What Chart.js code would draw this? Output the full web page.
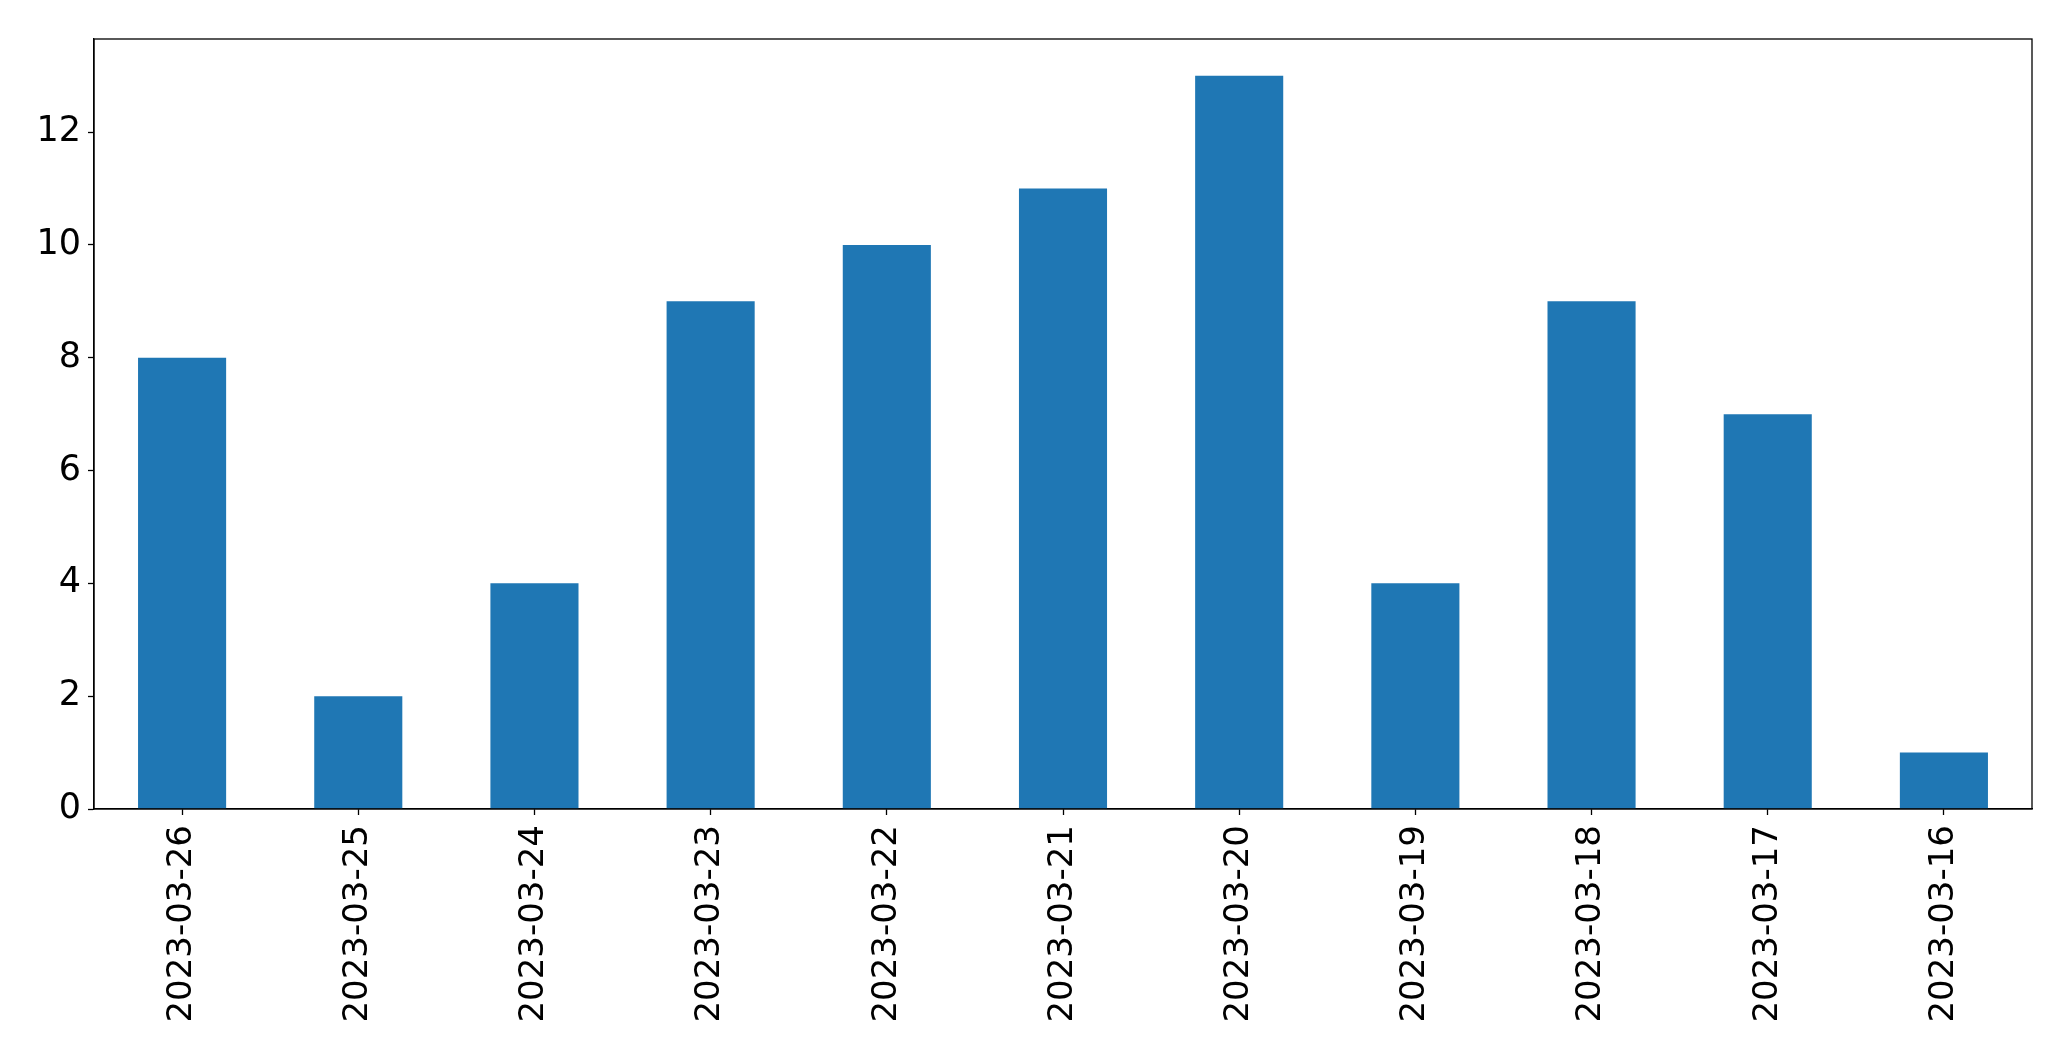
<!DOCTYPE html>
<html>
<head>
<meta charset="utf-8">
<script src="https://cdn.jsdelivr.net/npm/chart.js@4/dist/chart.umd.min.js"></script>
<style>
  html, body { margin: 0; padding: 0; background: #fff; }
  canvas { display: block; }
</style>
</head>
<body>
<canvas id="chart" width="2071" height="1061"></canvas>
<script>
const dates = ['2023-03-26', '2023-03-25', '2023-03-24', '2023-03-23', '2023-03-22', '2023-03-21',
               '2023-03-20', '2023-03-19', '2023-03-18', '2023-03-17', '2023-03-16'];
const counts = [8, 2, 4, 9, 10, 11, 13, 4, 9, 7, 1];
const yTicks = [0, 2, 4, 6, 8, 10, 12];

// box round the plot area, like matplotlib spines
const frame = {
  id: 'frame',
  afterDraw(chart) {
    const a = chart.chartArea;
    const ctx = chart.ctx;
    ctx.save();
    ctx.strokeStyle = '#000';
    ctx.lineWidth = 1.3;
    ctx.strokeRect(a.left, a.top, a.right - a.left, a.bottom - a.top);
    ctx.restore();
  }
};

const ctx = document.getElementById('chart').getContext('2d');
new Chart(ctx, {
  type: 'bar',
  data: {
    labels: dates,
    datasets: [{
      data: counts,
      backgroundColor: '#1f77b4',
      borderWidth: 0,
      barPercentage: 0.5,
      categoryPercentage: 1.0
    }]
  },
  options: {
    responsive: false,
    animation: false,
    layout: { padding: { left: 0, top: 39, right: 39, bottom: 0 } },
    plugins: { legend: { display: false }, tooltip: { enabled: false } },
    scales: {
      x: {
        offset: true,
        grid: { display: true, offset: false, drawOnChartArea: false, tickLength: 6, color: '#000', tickWidth: 1.3 },
        border: { display: true, color: '#000', width: 1.3 },
        ticks: {
          color: '#000',
          font: { family: 'DejaVu Sans', size: 34 },
          maxRotation: 90, minRotation: 90,
          padding: 10,
          autoSkip: false
        },
        afterFit(scale) { scale.height = 252; }
      },
      y: {
        min: 0,
        max: 13.65,
        afterBuildTicks(scale) { scale.ticks = yTicks.map(v => ({ value: v })); },
        grid: { display: true, drawOnChartArea: false, tickLength: 6, color: '#000', tickWidth: 1.3 },
        border: { display: true, color: '#000', width: 1.3 },
        ticks: {
          color: '#000',
          font: { family: 'DejaVu Sans', size: 35 },
          padding: 7
        },
        afterFit(scale) { scale.width = 94; }
      }
    }
  },
  plugins: [frame]
});
</script>
</body>
</html>
